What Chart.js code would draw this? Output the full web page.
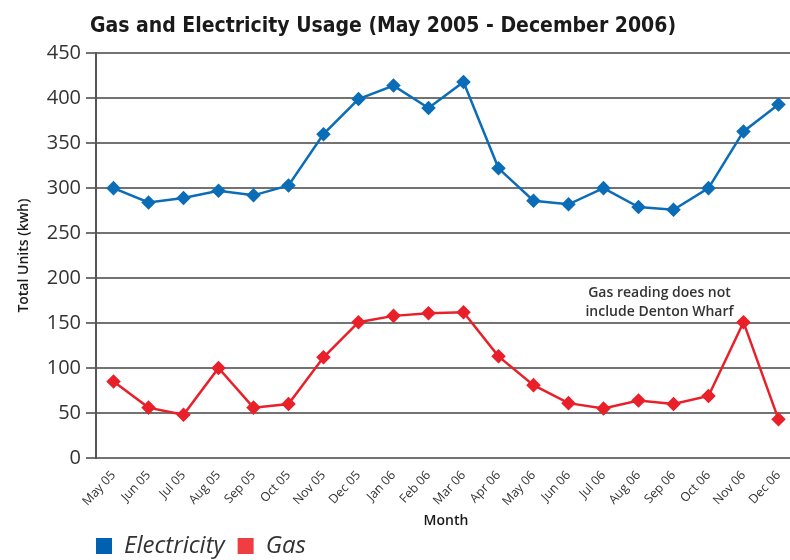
<!DOCTYPE html>
<html>
<head>
<meta charset="utf-8">
<title>Gas and Electricity Usage</title>
<script src="https://cdn.jsdelivr.net/npm/chart.js@4.4.1/dist/chart.umd.min.js"></script>
<style>
  html, body { margin: 0; padding: 0; background: #ffffff; overflow: hidden; }
  canvas { display: block; }
</style>
</head>
<body>
<canvas id="usage" width="804" height="560"></canvas>
<script>
// Monthly meter readings, May 2005 to December 2006
const months = ['May 05', 'Jun 05', 'Jul 05', 'Aug 05', 'Sep 05', 'Oct 05', 'Nov 05', 'Dec 05',
  'Jan 06', 'Feb 06', 'Mar 06', 'Apr 06', 'May 06', 'Jun 06', 'Jul 06', 'Aug 06',
  'Sep 06', 'Oct 06', 'Nov 06', 'Dec 06'];
const electricity = [300, 284, 289, 297, 292, 303, 360, 399, 414, 389, 418,
  322, 286, 282, 300, 279, 276, 300, 363, 393];
const gas = [85, 56, 48, 100, 56, 60, 112, 151, 158, 161, 162,
  113, 81, 61, 55, 64, 60, 69, 151, 43];
const yTicks = [0, 50, 100, 150, 200, 250, 300, 350, 400, 450];
const noteLines = ['Gas reading does not', 'include Denton Wharf'];

const lineColors = ['#0b6db7', '#e9202a'];
const keyColors = ['#0061b0', '#ef3d42'];
const textColor = '#333333';
const gridColor = '#737373';

// Places the title and key, and writes the note beside the Nov 06 gas spike
const placement = {
  id: 'placement',
  afterLayout(chart) {
    const t = chart.titleBlock;
    if (t) {
      const dx = 383 - (t.left + t.right) / 2;
      t.left += dx; t.right += dx;
    }
    const lg = chart.legend;
    if (lg) {
      const dx = chart.chartArea.left - lg.options.labels.padding - lg.left;
      lg.left += dx; lg.right += dx;
      lg.top += 8; lg.bottom += 8;
    }
  },
  afterDatasetsDraw(chart) {
    const {ctx, scales: {x, y}} = chart;
    ctx.save();
    ctx.font = '600 14px "Open Sans", sans-serif';
    ctx.fillStyle = textColor;
    ctx.textAlign = 'center';
    ctx.textBaseline = 'middle';
    const cx = x.getPixelForValue(15.6);
    const cy = y.getPixelForValue(183);
    noteLines.forEach((line, i) => ctx.fillText(line, cx, cy + i * 19));
    ctx.restore();
  }
};

new Chart(document.getElementById('usage'), {
  type: 'line',
  data: {
    labels: months,
    datasets: [
      {
        label: 'Electricity',
        data: electricity,
        borderColor: lineColors[0],
        backgroundColor: lineColors[0],
        pointBackgroundColor: lineColors[0],
        pointBorderColor: lineColors[0],
        borderWidth: 2.5,
        pointStyle: 'rectRot',
        pointRadius: 5.5,
        tension: 0,
        fill: false
      },
      {
        label: 'Gas',
        data: gas,
        borderColor: lineColors[1],
        backgroundColor: lineColors[1],
        pointBackgroundColor: lineColors[1],
        pointBorderColor: lineColors[1],
        borderWidth: 2.5,
        pointStyle: 'rectRot',
        pointRadius: 5.5,
        tension: 0,
        fill: false
      }
    ]
  },
  options: {
    responsive: false,
    animation: false,
    devicePixelRatio: 1,
    layout: { padding: 0 },
    plugins: {
      tooltip: { enabled: false },
      title: {
        display: true,
        text: 'Gas and Electricity Usage (May 2005 - December 2006)',
        color: '#1a1a1a',
        font: { family: '"Liberation Sans Narrow", "DejaVu Sans Condensed", sans-serif', size: 21, weight: 'bold', lineHeight: 1.2 },
        padding: { top: 14, bottom: 14 }
      },
      legend: {
        position: 'bottom',
        align: 'start',
        labels: {
          boxWidth: 16,
          boxHeight: 16,
          padding: 13,
          color: textColor,
          font: { family: '"Open Sans", sans-serif', size: 24, style: 'italic' },
          generateLabels: (chart) => chart.data.datasets.map((ds, i) => ({
            text: ds.label,
            fillStyle: keyColors[i],
            strokeStyle: keyColors[i],
            lineWidth: 0,
            hidden: false,
            datasetIndex: i,
            fontColor: textColor
          }))
        }
      }
    },
    scales: {
      x: {
        offset: true,
        afterFit: (scale) => { scale.height = 55; },
        grid: { display: false, drawTicks: true, tickLength: 6 },
        border: { display: false },
        ticks: {
          color: textColor,
          padding: 4,
          minRotation: 47,
          maxRotation: 47,
          autoSkip: false,
          font: { family: '"Open Sans", sans-serif', size: 12.5 }
        },
        title: {
          display: true,
          text: 'Month',
          color: '#1a1a1a',
          font: { family: '"Open Sans", sans-serif', size: 14, weight: '600', lineHeight: 1.2 },
          padding: { top: 0, bottom: -16 }
        }
      },
      y: {
        min: 0,
        max: 450,
        afterFit: (scale) => { scale.width = 96; },
        afterBuildTicks: (scale) => { scale.ticks = yTicks.map(v => ({ value: v })); },
        grid: { color: gridColor, lineWidth: 2, tickLength: 10, tickColor: gridColor },
        border: { display: true, color: '#555555', width: 2 },
        ticks: {
          color: textColor,
          padding: 5,
          font: { family: '"Open Sans", sans-serif', size: 20 }
        },
        title: {
          display: true,
          text: 'Total Units (kwh)',
          color: '#1a1a1a',
          font: { family: '"Open Sans", sans-serif', size: 14, weight: '600', lineHeight: 1.2 },
          padding: { top: 16, bottom: 0 }
        }
      }
    }
  },
  plugins: [placement]
});
</script>
</body>
</html>
